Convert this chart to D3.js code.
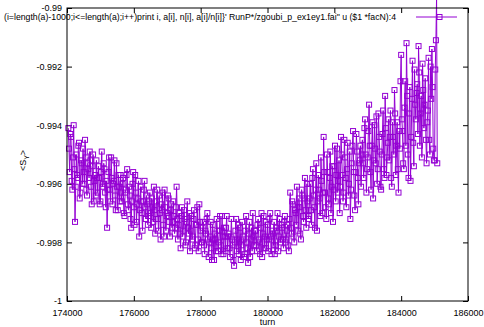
<!DOCTYPE html>
<html>
<head>
<meta charset="utf-8">
<script src="https://cdn.jsdelivr.net/npm/d3@7"></script>
<style>
  body { margin: 0; background: #fff; }
  text { font-family: "Liberation Sans", Arial, Helvetica, sans-serif; }
</style>
</head>
<body>
<script>
// turns are sampled every 20 from 174040
var turnStart = 174040, turnStep = 20;

// <S_Y> values, in order
var sy = [
  // 174040 - 174820
  -0.9941, -0.9948, -0.9956, -0.9943, -0.9944, -0.9959, -0.9962, -0.9951, -0.9940, -0.9955,
  -0.9973, -0.9961, -0.9950, -0.9957, -0.9958, -0.9947, -0.9946, -0.9965, -0.9963, -0.9952,
  -0.9953, -0.9960, -0.9948, -0.9956, -0.9960, -0.9945, -0.9951, -0.9962, -0.9964, -0.9953,
  -0.9955, -0.9958, -0.9949, -0.9952, -0.9961, -0.9967, -0.9954, -0.9950, -0.9966, -0.9959,
  // 174840 - 175620
  -0.9957, -0.9964, -0.9952, -0.9958, -0.9963, -0.9954, -0.9958, -0.9967, -0.9966, -0.9956,
  -0.9949, -0.9961, -0.9960, -0.9953, -0.9955, -0.9963, -0.9968, -0.9959, -0.9975, -0.9962,
  -0.9956, -0.9951, -0.9962, -0.9966, -0.9951, -0.9958, -0.9967, -0.9960, -0.9959, -0.9952,
  -0.9964, -0.9969, -0.9953, -0.9961, -0.9969, -0.9957, -0.9961, -0.9966, -0.9957, -0.9963,
  // 175640 - 176420
  -0.9966, -0.9960, -0.9958, -0.9970, -0.9971, -0.9963, -0.9962, -0.9957, -0.9955, -0.9967,
  -0.9969, -0.9961, -0.9964, -0.9972, -0.9975, -0.9966, -0.9960, -0.9956, -0.9968, -0.9974,
  -0.9957, -0.9963, -0.9973, -0.9967, -0.9965, -0.9959, -0.9978, -0.9969, -0.9961, -0.9966,
  -0.9970, -0.9976, -0.9966, -0.9962, -0.9959, -0.9968, -0.9972, -0.9964, -0.9967, -0.9974,
  // 176440 - 177220
  -0.9971, -0.9966, -0.9963, -0.9970, -0.9975, -0.9965, -0.9968, -0.9973, -0.9961, -0.9969,
  -0.9977, -0.9972, -0.9966, -0.9962, -0.9972, -0.9976, -0.9964, -0.9970, -0.9979, -0.9967,
  -0.9969, -0.9963, -0.9974, -0.9978, -0.9962, -0.9968, -0.9976, -0.9971, -0.9970, -0.9964,
  -0.9965, -0.9973, -0.9978, -0.9969, -0.9967, -0.9975, -0.9973, -0.9966, -0.9971, -0.9977,
  // 177240 - 178020
  -0.9975, -0.9968, -0.9961, -0.9972, -0.9979, -0.9974, -0.9970, -0.9977, -0.9982, -0.9971,
  -0.9968, -0.9978, -0.9976, -0.9969, -0.9972, -0.9981, -0.9980, -0.9973, -0.9966, -0.9975,
  -0.9977, -0.9970, -0.9983, -0.9976, -0.9971, -0.9979, -0.9978, -0.9972, -0.9969, -0.9982,
  -0.9981, -0.9974, -0.9974, -0.9968, -0.9979, -0.9983, -0.9967, -0.9973, -0.9976, -0.9980,
  // 178040 - 178820
  -0.9980, -0.9975, -0.9973, -0.9981, -0.9984, -0.9976, -0.9977, -0.9972, -0.9970, -0.9979,
  -0.9985, -0.9980, -0.9978, -0.9973, -0.9982, -0.9986, -0.9974, -0.9979, -0.9986, -0.9977,
  -0.9979, -0.9983, -0.9972, -0.9976, -0.9983, -0.9980, -0.9976, -0.9971, -0.9981, -0.9984,
  -0.9971, -0.9978, -0.9984, -0.9975, -0.9978, -0.9983, -0.9975, -0.9971, -0.9982, -0.9978,
  // 178840 - 179620
  -0.9977, -0.9982, -0.9985, -0.9978, -0.9972, -0.9979, -0.9981, -0.9986, -0.9988, -0.9980,
  -0.9976, -0.9972, -0.9983, -0.9979, -0.9974, -0.9984, -0.9980, -0.9975, -0.9986, -0.9981,
  -0.9973, -0.9978, -0.9979, -0.9985, -0.9984, -0.9976, -0.9971, -0.9980, -0.9982, -0.9987,
  -0.9977, -0.9973, -0.9985, -0.9979, -0.9975, -0.9983, -0.9970, -0.9978, -0.9981, -0.9976,
  // 179640 - 180420
  -0.9976, -0.9981, -0.9983, -0.9974, -0.9972, -0.9979, -0.9980, -0.9984, -0.9975, -0.9970,
  -0.9985, -0.9977, -0.9971, -0.9982, -0.9978, -0.9973, -0.9982, -0.9979, -0.9974, -0.9983,
  -0.9979, -0.9972, -0.9970, -0.9978, -0.9984, -0.9976, -0.9977, -0.9981, -0.9973, -0.9984,
  -0.9981, -0.9975, -0.9976, -0.9970, -0.9983, -0.9978, -0.9972, -0.9980, -0.9979, -0.9974,
  // 180440 - 181220
  -0.9975, -0.9979, -0.9982, -0.9973, -0.9971, -0.9980, -0.9979, -0.9976, -0.9974, -0.9981,
  -0.9983, -0.9972, -0.9963, -0.9975, -0.9977, -0.9966, -0.9967, -0.9978, -0.9980, -0.9969,
  -0.9970, -0.9974, -0.9961, -0.9968, -0.9976, -0.9965, -0.9968, -0.9977, -0.9979, -0.9962,
  -0.9964, -0.9971, -0.9973, -0.9965, -0.9958, -0.9969, -0.9975, -0.9960, -0.9966, -0.9972,
  // 181240 - 182020
  -0.9971, -0.9965, -0.9960, -0.9969, -0.9974, -0.9958, -0.9955, -0.9964, -0.9968, -0.9975,
  -0.9962, -0.9953, -0.9976, -0.9966, -0.9957, -0.9962, -0.9965, -0.9971, -0.9951, -0.9959,
  -0.9970, -0.9963, -0.9944, -0.9956, -0.9963, -0.9968, -0.9972, -0.9950, -0.9956, -0.9965,
  -0.9967, -0.9958, -0.9949, -0.9970, -0.9961, -0.9954, -0.9973, -0.9962, -0.9954, -0.9947,
  // 182040 - 182820
  -0.9966, -0.9957, -0.9948, -0.9963, -0.9959, -0.9952, -0.9970, -0.9961, -0.9944, -0.9950,
  -0.9957, -0.9966, -0.9963, -0.9945, -0.9951, -0.9958, -0.9968, -0.9955, -0.9946, -0.9964,
  -0.9960, -0.9949, -0.9972, -0.9962, -0.9953, -0.9947, -0.9942, -0.9956, -0.9964, -0.9969,
  -0.9956, -0.9943, -0.9949, -0.9958, -0.9967, -0.9953, -0.9952, -0.9947, -0.9961, -0.9950,
  // 182840 - 183620
  -0.9945, -0.9953, -0.9958, -0.9941, -0.9938, -0.9950, -0.9963, -0.9955, -0.9951, -0.9942,
  -0.9933, -0.9947, -0.9956, -0.9962, -0.9947, -0.9939, -0.9965, -0.9952, -0.9940, -0.9948,
  -0.9953, -0.9937, -0.9960, -0.9955, -0.9936, -0.9944, -0.9949, -0.9961, -0.9962, -0.9950,
  -0.9943, -0.9935, -0.9955, -0.9958, -0.9930, -0.9941, -0.9957, -0.9951, -0.9946, -0.9938,
  // 183640 - 184420
  -0.9952, -0.9944, -0.9935, -0.9958, -0.9961, -0.9939, -0.9944, -0.9950, -0.9928, -0.9936,
  -0.9957, -0.9947, -0.9939, -0.9955, -0.9963, -0.9942, -0.9948, -0.9925, -0.9916, -0.9938,
  -0.9942, -0.9953, -0.9955, -0.9934, -0.9925, -0.9947, -0.9912, -0.9930, -0.9950, -0.9958,
  -0.9936, -0.9927, -0.9959, -0.9944, -0.9931, -0.9918, -0.9946, -0.9954, -0.9921, -0.9933,
  // 184440 - 185080
  -0.9938, -0.9929, -0.9926, -0.9943, -0.9913, -0.9922, -0.9947, -0.9936, -0.9930, -0.9951,
  -0.9919, -0.9928, -0.9941, -0.9933, -0.9924, -0.9945, -0.9953, -0.9939, -0.9935, -0.9917,
  -0.9945, -0.9950, -0.9920, -0.9931, -0.9914, -0.9927, -0.9948, -0.9952, -0.9952, -0.9921,
  -0.9911, -0.9896, -0.9953
];

var xTicks = [174000, 176000, 178000, 180000, 182000, 184000, 186000];
var yTicks = [-1, -0.998, -0.996, -0.994, -0.992, -0.99];
var yTickLabels = ["-1", "-0.998", "-0.996", "-0.994", "-0.992", "-0.99"];
var keyTitle = "(i=length(a)-1000;i<=length(a);i++)print i, a[i], n[i], a[i]/n[i]}' RunP*/zgoubi_p_ex1ey1.fai\" u ($1 *facN):4";

var W = 484, H = 327;
var margin = {top: 8, right: 16, bottom: 26, left: 67};
var w = W - margin.left - margin.right,
    h = H - margin.top - margin.bottom;
var color = "#9400d3";

var svg = d3.select("body").append("svg")
    .attr("width", W)
    .attr("height", H);

var g = svg.append("g")
    .attr("transform", "translate(" + margin.left + "," + margin.top + ")");

var x = d3.scaleLinear().domain([174000, 186000]).range([0, w]);
var y = d3.scaleLinear().domain([-1, -0.99]).range([h, 0]);

var data = sy.map(function(v, i) { return {turn: turnStart + i * turnStep, v: v}; });

// axes, ticks pointing inward, mirrored on top/right like gnuplot
var fs = "9px";
var bottom = g.append("g").attr("transform", "translate(0," + h + ")")
    .call(d3.axisBottom(x).tickValues(xTicks).tickSize(-5).tickPadding(9).tickFormat(d3.format("d")));
var left = g.append("g")
    .call(d3.axisLeft(y).tickValues(yTicks).tickSize(-5).tickPadding(5)
      .tickFormat(function(d, i) { return yTickLabels[i]; }));
g.append("g").call(d3.axisTop(x).tickValues(xTicks).tickSize(-5).tickFormat(""));
g.append("g").attr("transform", "translate(" + w + ",0)")
    .call(d3.axisRight(y).tickValues(yTicks).tickSize(-5).tickFormat(""));

g.selectAll(".domain").remove();
g.selectAll(".tick line").attr("stroke", "#000");
g.selectAll(".tick text").attr("fill", "#000").style("font-size", fs)
    .style("font-family", "'Liberation Sans', Arial, sans-serif");

// data line + open squares
g.append("path")
    .datum(data)
    .attr("fill", "none")
    .attr("stroke", color)
    .attr("stroke-width", 1)
    .attr("d", d3.line().x(function(d) { return x(d.turn); }).y(function(d) { return y(d.v); }));

g.append("g").selectAll("rect")
    .data(data)
    .enter().append("rect")
    .attr("x", function(d) { return x(d.turn) - 2.5; })
    .attr("y", function(d) { return y(d.v) - 2.5; })
    .attr("width", 5)
    .attr("height", 5)
    .attr("fill", "none")
    .attr("stroke", color)
    .attr("stroke-width", 1);

// border
g.append("rect")
    .attr("width", w).attr("height", h)
    .attr("fill", "none").attr("stroke", "#000").attr("stroke-width", 1);

// key
svg.append("text")
    .attr("x", 396).attr("y", 20)
    .attr("text-anchor", "end")
    .attr("textLength", 392).attr("lengthAdjust", "spacingAndGlyphs")
    .style("font-size", fs)
    .text(keyTitle);
svg.append("line")
    .attr("x1", 416).attr("x2", 457).attr("y1", 17).attr("y2", 17)
    .attr("stroke", color);
svg.append("rect")
    .attr("x", 437).attr("y", 14.5).attr("width", 5).attr("height", 5)
    .attr("fill", "none").attr("stroke", color);

// axis titles
svg.append("text")
    .attr("x", margin.left + w / 2).attr("y", 325)
    .attr("text-anchor", "middle")
    .style("font-size", fs)
    .text("turn");

var yl = svg.append("text")
    .attr("transform", "translate(26," + (margin.top + h / 2 + 6) + ") rotate(-90)")
    .attr("text-anchor", "middle")
    .style("font-size", fs);
yl.append("tspan").text("<S");
yl.append("tspan").attr("dy", 2.5).style("font-size", "7px").text("Y");
yl.append("tspan").attr("dy", -2.5).text(">");
</script>
</body>
</html>
